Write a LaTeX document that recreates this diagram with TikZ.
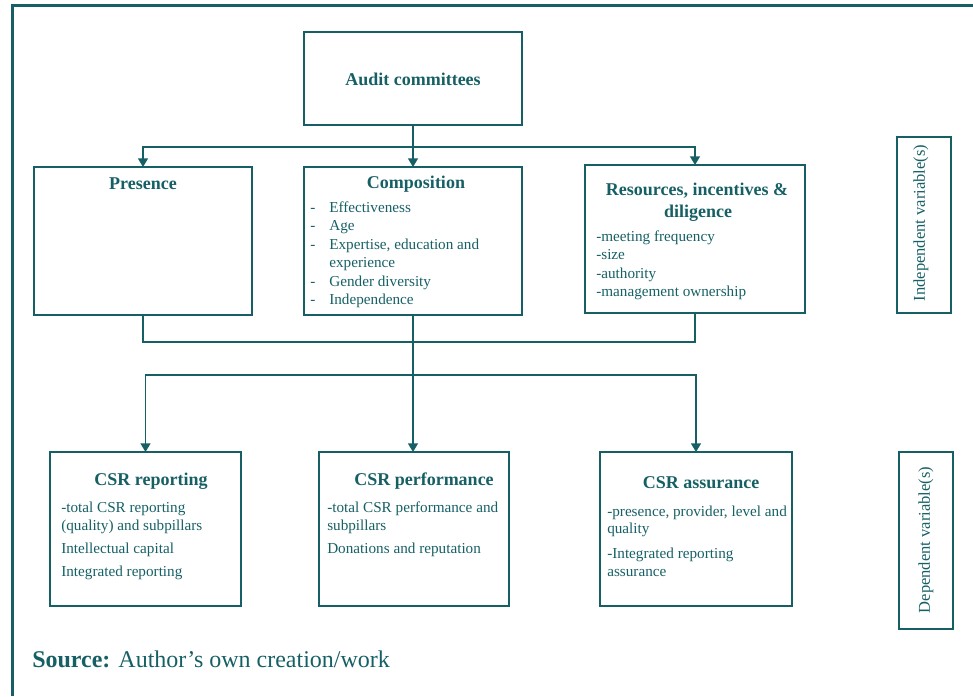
\documentclass[tikz,border=0pt]{standalone}
\usepackage{fontspec}
\setmainfont{Liberation Serif}
\usetikzlibrary{arrows.meta}
\definecolor{acteal}{RGB}{22,96,101}

\tikzset{
  box/.style={draw=acteal, line width=1.5pt, inner sep=0pt, outer sep=0pt},
  title/.style={font=\fontsize{13.5}{16.5}\selectfont\bfseries, text=acteal, inner sep=0pt, anchor=base},
  items/.style={font=\fontsize{11.4}{13.9}\selectfont, text=acteal, inner sep=0pt, anchor=base west},
  varlabel/.style={font=\fontsize{12.4}{14}\selectfont, text=acteal, rotate=90, inner sep=0pt},
  link/.style={draw=acteal, line width=1pt},
  arr/.style={link, -{Triangle[width=7.5pt,length=6.5pt]}},
}

\begin{document}
\begin{tikzpicture}[x=0.75pt, y=-0.75pt]
  \useasboundingbox (0,0) rectangle (973,696);
  % outer frame
  \draw[acteal, line width=2.25pt] (12,696) -- (12,5.5) -- (973,5.5);

  % boxes
  \node[box, minimum width=163.5pt, minimum height=69.75pt] (audit) at (413,78.5) {};
  \node[box, minimum width=163.5pt, minimum height=111pt] (presence) at (143,241) {};
  \node[box, minimum width=163.5pt, minimum height=111pt] (compo) at (413,241) {};
  \node[box, minimum width=165pt, minimum height=111pt] (resources) at (695,239) {};
  \node[box, minimum width=40.5pt, minimum height=132pt] (indep) at (924,225) {};
  \node[box, minimum width=143.25pt, minimum height=115.5pt] (reporting) at (145.5,529) {};
  \node[box, minimum width=142.5pt, minimum height=115.5pt] (performance) at (414,529) {};
  \node[box, minimum width=144pt, minimum height=115.5pt] (assurance) at (696,529) {};
  \node[box, minimum width=40.5pt, minimum height=132.75pt] (dep) at (926,540.5) {};

  % titles
  \node[title] (audittitle) at (413,85) {Audit committees};
  \node[title] (prestitle) at (143,189) {Presence};
  \node[title] (compotitle) at (416,188) {Composition};
  \node[title] (restitle) at (697,195) {Resources, incentives \&};
  \node[title] (restitleb) at (698,217) {diligence};
  \node[title] (reptitle) at (151,485) {CSR reporting};
  \node[title] (perftitle) at (424,485) {CSR performance};
  \node[title] (assutitle) at (701,488) {CSR assurance};

  % lists
  \node[items] (compolist) at (310,212) {\begin{tabular}[t]{@{}l@{\hspace{10.5pt}}l@{}}
    - & Effectiveness\\
    - & Age\\
    - & Expertise, education and\\
      & experience\\
    - & Gender diversity\\
    - & Independence
  \end{tabular}};
  \node[items] (reslist) at (596,241) {\begin{tabular}[t]{@{}l@{}}
    -meeting frequency\\
    -size\\
    -authority\\
    -management ownership
  \end{tabular}};
  \node[items] (replist) at (61,512) {\begin{tabular}[t]{@{}l@{}}
    -total CSR reporting\\
    (quality) and subpillars\\[3.4pt]
    Intellectual capital\\[3.4pt]
    Integrated reporting
  \end{tabular}};
  \node[items] (perflist) at (327,512) {\begin{tabular}[t]{@{}l@{}}
    -total CSR performance and\\
    subpillars\\[3.4pt]
    Donations and reputation
  \end{tabular}};
  \node[items] (assulist) at (607,516) {\begin{tabular}[t]{@{}l@{}}
    -presence, provider, level and\\[-1pt]
    quality\\[5pt]
    -Integrated reporting\\
    assurance
  \end{tabular}};

  % side labels
  \node[varlabel] (indeplabel) at (921,223) {Independent variable(s)};
  \node[varlabel] (deplabel) at (926,540) {Dependent variable(s)};

  % connectors
  \coordinate (topsplit) at (413,147);
  \draw[link] (audit.south) -- (topsplit);
  \draw[arr] (topsplit) -| (presence.north);
  \draw[arr] (topsplit) -| (resources.north);
  \draw[arr] (topsplit) -- (compo.north);
  \draw[link] (presence.south) -- ++(0,27) -| (resources.south);
  \draw[arr] (compo.south) -- (compo.south |- performance.north);
  \coordinate (lowsplit) at (413,375);
  \draw[arr] (lowsplit) -| (reporting.north);
  \draw[arr] (lowsplit) -| (assurance.north);

  \node[font=\fontsize{18}{21}\selectfont, text=acteal, anchor=base west, inner sep=0pt] (source) at (32,667) {\textbf{Source:} Author’s own creation/work};
\end{tikzpicture}
\end{document}
